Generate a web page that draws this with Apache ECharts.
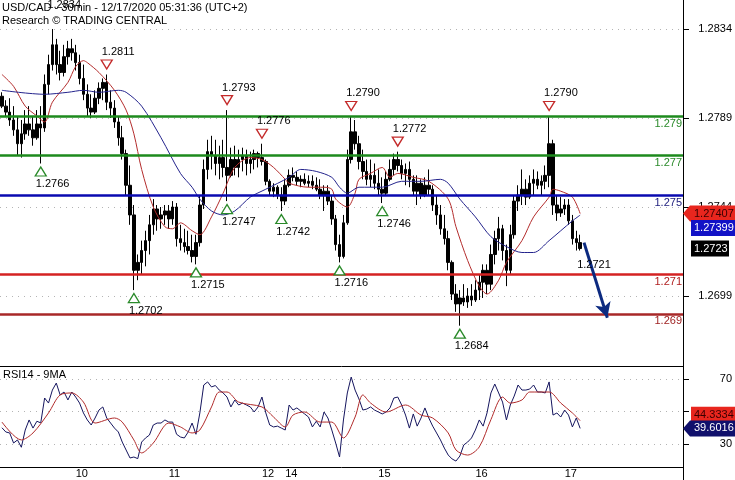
<!DOCTYPE html>
<html>
<head>
<meta charset="utf-8">
<script src="https://cdn.jsdelivr.net/npm/echarts@6/dist/echarts.min.js"></script>
<style>
  html, body { margin: 0; padding: 0; background: #fff; }
  #chart { width: 735px; height: 480px; }
</style>
</head>
<body>
<div id="chart"></div>
<script>
const FONT = '"Liberation Sans", Arial, sans-serif'

// hourly bars: [open, close, low, high]
const ohlc = [
  [1.2800, 1.2795, 1.2794, 1.2802], [1.2795, 1.2792, 1.2790, 1.2798], [1.2792, 1.2788, 1.2785, 1.2799],
  [1.2788, 1.2783, 1.2780, 1.2795], [1.2783, 1.2776, 1.2770, 1.2790], [1.2776, 1.2781, 1.2769, 1.2788],
  [1.2781, 1.2786, 1.2778, 1.2793], [1.2786, 1.2783, 1.2780, 1.2795], [1.2783, 1.2779, 1.2775, 1.2790],
  [1.2779, 1.2786, 1.2778, 1.2793], [1.2786, 1.2784, 1.2766, 1.2795], [1.2784, 1.2806, 1.2782, 1.2811],
  [1.2806, 1.2816, 1.2801, 1.2821], [1.2816, 1.2826, 1.2813, 1.2834], [1.2826, 1.2816, 1.2811, 1.2829],
  [1.2816, 1.2812, 1.2808, 1.2823], [1.2812, 1.2820, 1.2810, 1.2826], [1.2820, 1.2824, 1.2816, 1.2828],
  [1.2824, 1.2822, 1.2818, 1.2829], [1.2822, 1.2817, 1.2813, 1.2826], [1.2817, 1.2809, 1.2806, 1.2821],
  [1.2809, 1.2801, 1.2798, 1.2816], [1.2801, 1.2794, 1.2790, 1.2806], [1.2794, 1.2792, 1.2789, 1.2801],
  [1.2792, 1.2799, 1.2791, 1.2803], [1.2799, 1.2804, 1.2796, 1.2807], [1.2804, 1.2807, 1.2798, 1.2809],
  [1.2807, 1.2797, 1.2793, 1.2811], [1.2797, 1.2794, 1.2789, 1.2803], [1.2794, 1.2787, 1.2784, 1.2798],
  [1.2787, 1.2779, 1.2775, 1.2790], [1.2779, 1.2771, 1.2768, 1.2785], [1.2771, 1.2755, 1.2750, 1.2773],
  [1.2755, 1.2740, 1.2735, 1.2765], [1.2740, 1.2712, 1.2702, 1.2745], [1.2712, 1.2716, 1.2707, 1.2720],
  [1.2716, 1.2722, 1.2710, 1.2727], [1.2722, 1.2727, 1.2714, 1.2732], [1.2727, 1.2735, 1.2720, 1.2740],
  [1.2735, 1.2743, 1.2730, 1.2748], [1.2743, 1.2738, 1.2732, 1.2745], [1.2738, 1.2740, 1.2733, 1.2744],
  [1.2740, 1.2742, 1.2735, 1.2745], [1.2742, 1.2738, 1.2733, 1.2745], [1.2738, 1.2744, 1.2735, 1.2747],
  [1.2744, 1.2728, 1.2724, 1.2746], [1.2728, 1.2726, 1.2722, 1.2735], [1.2726, 1.2724, 1.2721, 1.2733],
  [1.2724, 1.2722, 1.2720, 1.2732], [1.2722, 1.2719, 1.2716, 1.2730], [1.2719, 1.2726, 1.2715, 1.2730],
  [1.2726, 1.2745, 1.2724, 1.2750], [1.2745, 1.2763, 1.2743, 1.2768], [1.2763, 1.2772, 1.2758, 1.2778],
  [1.2772, 1.2770, 1.2763, 1.2780], [1.2770, 1.2766, 1.2760, 1.2778], [1.2766, 1.2769, 1.2758, 1.2775],
  [1.2769, 1.2764, 1.2759, 1.2778], [1.2764, 1.2760, 1.2747, 1.2793], [1.2760, 1.2768, 1.2759, 1.2774],
  [1.2768, 1.2764, 1.2760, 1.2775], [1.2764, 1.2768, 1.2759, 1.2773], [1.2768, 1.2770, 1.2762, 1.2774],
  [1.2770, 1.2766, 1.2760, 1.2773], [1.2766, 1.2768, 1.2761, 1.2772], [1.2768, 1.2771, 1.2763, 1.2773],
  [1.2771, 1.2769, 1.2764, 1.2772], [1.2769, 1.2767, 1.2765, 1.2776], [1.2767, 1.2757, 1.2755, 1.2768],
  [1.2757, 1.2752, 1.2750, 1.2758], [1.2752, 1.2754, 1.2749, 1.2756], [1.2754, 1.2750, 1.2748, 1.2755],
  [1.2750, 1.2747, 1.2742, 1.2754], [1.2747, 1.2755, 1.2745, 1.2758], [1.2755, 1.2760, 1.2754, 1.2763],
  [1.2760, 1.2759, 1.2757, 1.2764], [1.2759, 1.2757, 1.2755, 1.2762], [1.2757, 1.2758, 1.2754, 1.2760],
  [1.2758, 1.2756, 1.2755, 1.2761], [1.2756, 1.2757, 1.2754, 1.2760], [1.2757, 1.2755, 1.2753, 1.2760],
  [1.2755, 1.2753, 1.2752, 1.2759], [1.2753, 1.2750, 1.2748, 1.2758], [1.2750, 1.2752, 1.2742, 1.2755],
  [1.2752, 1.2747, 1.2745, 1.2755], [1.2747, 1.2738, 1.2735, 1.2750], [1.2738, 1.2725, 1.2722, 1.2740],
  [1.2725, 1.2719, 1.2716, 1.2730], [1.2719, 1.2736, 1.2718, 1.2740], [1.2736, 1.2768, 1.2735, 1.2773],
  [1.2768, 1.2782, 1.2766, 1.2790], [1.2782, 1.2776, 1.2773, 1.2788], [1.2776, 1.2767, 1.2763, 1.2780],
  [1.2767, 1.2762, 1.2758, 1.2773], [1.2762, 1.2758, 1.2755, 1.2768], [1.2758, 1.2760, 1.2754, 1.2768],
  [1.2760, 1.2756, 1.2753, 1.2766], [1.2756, 1.2753, 1.2750, 1.2763], [1.2753, 1.2751, 1.2746, 1.2759],
  [1.2751, 1.2758, 1.2750, 1.2762], [1.2758, 1.2763, 1.2757, 1.2768], [1.2763, 1.2768, 1.2760, 1.2771],
  [1.2768, 1.2765, 1.2762, 1.2772], [1.2765, 1.2761, 1.2758, 1.2768], [1.2761, 1.2763, 1.2755, 1.2766],
  [1.2763, 1.2758, 1.2754, 1.2767], [1.2758, 1.2752, 1.2750, 1.2760], [1.2752, 1.2756, 1.2745, 1.2760],
  [1.2756, 1.2750, 1.2748, 1.2758], [1.2750, 1.2755, 1.2749, 1.2759], [1.2755, 1.2753, 1.2750, 1.2763],
  [1.2753, 1.2745, 1.2742, 1.2755], [1.2745, 1.2740, 1.2735, 1.2750], [1.2740, 1.2733, 1.2730, 1.2745],
  [1.2733, 1.2728, 1.2725, 1.2740], [1.2728, 1.2716, 1.2712, 1.2732], [1.2716, 1.2700, 1.2697, 1.2717],
  [1.2700, 1.2695, 1.2691, 1.2705], [1.2695, 1.2698, 1.2684, 1.2702], [1.2698, 1.2696, 1.2694, 1.2705],
  [1.2696, 1.2699, 1.2693, 1.2703], [1.2699, 1.2697, 1.2694, 1.2705], [1.2697, 1.2702, 1.2696, 1.2707],
  [1.2702, 1.2706, 1.2697, 1.2710], [1.2706, 1.2712, 1.2698, 1.2715], [1.2712, 1.2705, 1.2700, 1.2715],
  [1.2705, 1.2720, 1.2702, 1.2725], [1.2720, 1.2728, 1.2715, 1.2732], [1.2728, 1.2733, 1.2722, 1.2739],
  [1.2733, 1.2722, 1.2717, 1.2735], [1.2722, 1.2712, 1.2704, 1.2725], [1.2712, 1.2730, 1.2710, 1.2735],
  [1.2730, 1.2747, 1.2728, 1.2750], [1.2747, 1.2750, 1.2742, 1.2755], [1.2750, 1.2753, 1.2745, 1.2763],
  [1.2753, 1.2749, 1.2745, 1.2758], [1.2749, 1.2756, 1.2748, 1.2760], [1.2756, 1.2758, 1.2750, 1.2763],
  [1.2758, 1.2755, 1.2753, 1.2762], [1.2755, 1.2757, 1.2750, 1.2760], [1.2757, 1.2760, 1.2753, 1.2765],
  [1.2760, 1.2776, 1.2754, 1.2790], [1.2776, 1.2745, 1.2740, 1.2778], [1.2745, 1.2741, 1.2737, 1.2750],
  [1.2741, 1.2743, 1.2739, 1.2749], [1.2743, 1.2745, 1.2740, 1.2748], [1.2745, 1.2737, 1.2735, 1.2748],
  [1.2737, 1.2728, 1.2725, 1.2740], [1.2728, 1.2726, 1.2722, 1.2732], [1.2726, 1.2723, 1.2722, 1.2730]
]

// moving averages: [bar index, price]
const redMa = [
  [0, 1.2811], [3, 1.2805], [6, 1.2795], [9, 1.2790], [11, 1.2787], [13, 1.2797], [17, 1.2807], [19, 1.2815],
  [21, 1.2818], [22, 1.2817], [25, 1.2812], [29, 1.2803], [32, 1.2793], [34, 1.2781], [36, 1.2763], [39, 1.2744],
  [42, 1.2734], [44, 1.2733], [46, 1.2736], [49, 1.2732], [51, 1.2730], [54, 1.2739], [57, 1.2751], [60, 1.2764],
  [64, 1.2769], [67, 1.2768], [70, 1.2764], [73, 1.2758], [74, 1.2756], [79, 1.2754], [83, 1.2754], [85, 1.2753],
  [86, 1.2748], [89, 1.2744], [91, 1.2751], [92, 1.2758], [95, 1.2761], [98, 1.2764], [100, 1.2759], [102, 1.2761],
  [106, 1.2759], [110, 1.2757], [115, 1.2748], [117, 1.2734], [120, 1.2717], [123, 1.2704], [125, 1.2700],
  [128, 1.2707], [130, 1.2716], [134, 1.2727], [137, 1.2739], [141, 1.2749], [142, 1.2753], [144, 1.2752],
  [147, 1.2749], [149, 1.27407]
]
const blueMa = [
  [0, 1.2803], [11, 1.2801], [17, 1.2802], [21, 1.2803], [25, 1.2802], [30, 1.2803], [32, 1.2802], [36, 1.2795],
  [41, 1.2779], [46, 1.2761], [49, 1.2754], [51, 1.2748], [54, 1.2742], [57, 1.2740], [60, 1.2742], [64, 1.2749],
  [68, 1.2753], [74, 1.2759], [77, 1.2763], [81, 1.2762], [85, 1.2759], [87, 1.2754], [89, 1.2751], [92, 1.2754],
  [98, 1.2754], [103, 1.2757], [108, 1.2757], [113, 1.2758], [115, 1.2756], [118, 1.2748], [122, 1.2739],
  [126, 1.2729], [130, 1.2724], [134, 1.2721], [137, 1.2721], [141, 1.2727], [144, 1.2732], [147, 1.2737],
  [149, 1.27399]
]

// RSI(14) per bar and its 9-bar average
const rsi = [
  40, 37.4, 36.8, 30.6, 32.5, 28, 38.6, 44.8, 39.8, 44,
  43, 58.3, 55.2, 63.2, 67.5, 60.2, 62, 57.1, 62, 58.9,
  55.2, 49.1, 44.8, 41.7, 46, 50.9, 52.8, 46, 42.9, 39.8,
  37.4, 31.2, 26.3, 21.4, 22, 21, 31.2, 33.7, 35.5, 41.7,
  42.9, 42.9, 44.8, 43.5, 43.5, 36, 34.3, 33.7, 37.4, 42.9,
  36, 49.1, 66.3, 68.2, 65.1, 66, 63.2, 61.4, 58.9, 52.8,
  57.1, 54, 55.2, 54, 52.8, 49.7, 52.8, 58.9, 49.1, 41.7,
  40.5, 41, 39.8, 38.6, 54, 50.9, 52.2, 50.3, 48.5, 46.6,
  40.5, 44, 40.5, 49.7, 46, 38.6, 30.6, 22, 44.8, 61.4,
  71.2, 63.2, 57.7, 50.9, 51.5, 52.8, 50.9, 49.7, 48.5, 49.7,
  52.2, 58.3, 58.9, 54, 47.8, 39.8, 48.5, 41, 46, 52.2,
  46, 41, 36.8, 32.5, 27.5, 23.2, 20.8, 19.5, 22.6, 29.4,
  31.2, 33.7, 38.6, 44.8, 41, 49.1, 61.4, 66.9, 61.4, 55.8,
  44.8, 54, 59.5, 66.3, 63.2, 63.2, 63.8, 66.3, 62, 62,
  61.4, 68.2, 47.8, 49.1, 46.6, 50.9, 47.8, 40.5, 46, 39.6016
]
const rsiMa = [
  [0, 43.5], [5, 32.5], [8, 36.8], [12, 49.1], [15, 60.2], [18, 61.4], [21, 55.8], [24, 42.9], [29, 46],
  [31, 43.5], [34, 32.5], [36, 24.5], [39, 30.6], [43, 42.9], [46, 40.5], [49, 36.8], [51, 38.6], [54, 52.8],
  [56, 62], [58, 62], [61, 55.8], [67, 52.8], [70, 46.6], [73, 40.5], [75, 47.8], [78, 49.7], [82, 43.5],
  [85, 43.5], [88, 33.7], [91, 46.6], [93, 60.2], [95, 55.2], [99, 49.7], [104, 54], [108, 47.8], [111, 46],
  [115, 36.8], [117, 26.3], [120, 23.2], [123, 28.2], [126, 45], [129, 58.9], [131, 55.2], [134, 57.1],
  [136, 62], [141, 62], [144, 55.2], [147, 49.1], [149, 44.3334]
]

const slotCount = 176
const dayLabels = ['10', '11', '12', '14', '15', '16', '17']
const dayIndex = [19, 43, 67, 73, 97, 122, 145]
const priceTicks = [1.2699, 1.2744, 1.2789, 1.2834]
const rsiTicks = [30, 50, 70]

const levels = [1.279, 1.277, 1.275, 1.271, 1.269]
const levelColors = ['#1d8a1d', '#1d8a1d', '#0a0ab0', '#d42222', '#a82828']
const levelTextColors = ['#2b8a2b', '#2b8a2b', '#1c1c7c', '#b02020', '#a02424']

const highIdx = [27, 58, 67, 90, 102, 141]
const highVal = [1.2811, 1.2793, 1.2776, 1.2790, 1.2772, 1.2790]
const lowIdx = [10, 34, 50, 58, 72, 87, 98, 118]
const lowVal = [1.2766, 1.2702, 1.2715, 1.2747, 1.2742, 1.2716, 1.2746, 1.2684]
const topHigh = [13, 1.2834]
const target = [149, 1.2721]
const arrowFrom = [150, 1.2726]
const arrowTo = [156, 1.2688]

const lastRedMa = 1.27407
const lastBlueMa = 1.27399
const lastClose = 1.2723
const lastRsiMa = 44.3334
const lastRsi = 39.6016

const slots = Array.from({ length: slotCount }, (_, i) => String(i))
const isDay = (i) => dayIndex.includes(i)

const chart = echarts.init(document.getElementById('chart'), null, { renderer: 'canvas' })

const pivotLabel = { show: true, color: '#000', fontSize: 11, fontFamily: FONT, align: 'left', offset: [-5, 0], distance: 2 }

const markPoints = [
  ...highIdx.map((i, k) => ({
    coord: [i, highVal[k]],
    symbol: 'triangle',
    symbolRotate: 180,
    symbolSize: [11, 9],
    symbolOffset: [0, -10],
    itemStyle: { color: '#fff', borderColor: '#c42a2a', borderWidth: 1.3 },
    label: { ...pivotLabel, position: 'top', formatter: highVal[k].toFixed(4) }
  })),
  ...lowIdx.map((i, k) => ({
    coord: [i, lowVal[k]],
    symbol: 'triangle',
    symbolSize: [11, 9],
    symbolOffset: [0, 8],
    itemStyle: { color: '#fff', borderColor: '#2a8a2a', borderWidth: 1.3 },
    label: { ...pivotLabel, position: 'bottom', formatter: lowVal[k].toFixed(4) }
  })),
  {
    coord: topHigh,
    symbol: 'circle',
    symbolSize: 1,
    itemStyle: { color: 'rgba(0,0,0,0)' },
    label: { ...pivotLabel, position: 'top', distance: 18, formatter: topHigh[1].toFixed(4) }
  },
  {
    coord: target,
    symbol: 'circle',
    symbolSize: 1,
    itemStyle: { color: 'rgba(0,0,0,0)' },
    label: { ...pivotLabel, position: 'bottom', distance: 6, offset: [-3, 0], formatter: target[1].toFixed(4) }
  }
]

const markLines = [
  ...levels.map((v, k) => ({
    yAxis: v,
    lineStyle: { color: levelColors[k], width: 2.5, type: 'solid' },
    label: {
      show: true,
      position: 'insideEndBottom',
      distance: [1, 2],
      formatter: v.toFixed(3),
      color: levelTextColors[k],
      fontSize: 11,
      fontFamily: FONT
    }
  })),
  [
    { coord: arrowFrom, symbol: 'none' },
    { coord: arrowTo, symbol: 'arrow', symbolSize: [12, 15] }
  ]
]

chart.setOption({
  animation: false,
  textStyle: { fontFamily: FONT },
  title: [
    {
      text: 'USD/CAD - 30min - 12/17/2020 05:31:36 (UTC+2)\nResearch © TRADING CENTRAL',
      left: 2,
      top: 1,
      padding: 0,
      textStyle: { fontSize: 11, fontWeight: 'normal', color: '#000', lineHeight: 13, fontFamily: FONT }
    },
    {
      text: 'RSI14 - 9MA',
      left: 3,
      top: 369,
      padding: 0,
      textStyle: { fontSize: 11, fontWeight: 'normal', color: '#000', fontFamily: FONT }
    }
  ],
  grid: [
    { left: 0, right: 52, top: 0, height: 366 },
    { left: 0, right: 52, top: 366, height: 101 }
  ],
  xAxis: [
    { gridIndex: 0, type: 'category', data: slots, show: false },
    {
      gridIndex: 1,
      type: 'category',
      data: slots,
      axisLine: { lineStyle: { color: '#000', width: 1 } },
      axisTick: { interval: (i) => isDay(i), length: 10, lineStyle: { color: '#000' } },
      axisLabel: {
        interval: (i) => isDay(i),
        formatter: (v, i) => dayLabels[dayIndex.indexOf(i)],
        align: 'left',
        margin: 1,
        fontSize: 11,
        color: '#000',
        fontFamily: FONT
      },
      splitLine: { show: false }
    },
    {
      gridIndex: 1,
      type: 'category',
      data: slots,
      position: 'top',
      axisLine: { lineStyle: { color: '#000', width: 1 } },
      axisTick: { show: false },
      axisLabel: { show: false }
    }
  ],
  yAxis: [
    {
      gridIndex: 0,
      type: 'value',
      position: 'right',
      min: 1.266362,
      max: 1.284866,
      axisLine: { show: true, lineStyle: { color: '#000' } },
      axisTick: { show: true, customValues: priceTicks, length: 6, lineStyle: { color: '#000' } },
      axisLabel: {
        customValues: priceTicks,
        formatter: (v) => v.toFixed(4),
        align: 'right',
        margin: 49,
        fontSize: 11,
        color: '#000',
        fontFamily: FONT
      },
      splitLine: { show: true, lineStyle: { color: '#b4b4b4', type: [1, 5] } }
    },
    {
      gridIndex: 1,
      type: 'value',
      position: 'right',
      min: 15.85,
      max: 78,
      axisLine: { show: true, lineStyle: { color: '#000' } },
      axisTick: { show: true, customValues: rsiTicks, length: 6, lineStyle: { color: '#000' } },
      axisLabel: {
        customValues: rsiTicks,
        align: 'right',
        margin: 49,
        fontSize: 11,
        color: '#000',
        fontFamily: FONT
      },
      splitLine: { show: true, lineStyle: { color: '#b4b4b4', type: [1, 5] } }
    }
  ],
  series: [
    {
      type: 'candlestick',
      xAxisIndex: 0,
      yAxisIndex: 0,
      data: ohlc,
      barWidth: 3,
      itemStyle: { color: '#000', color0: '#000', borderColor: '#000', borderColor0: '#000', borderWidth: 1 },
      markLine: {
        silent: true,
        precision: 5,
        symbol: 'none',
        lineStyle: { color: '#0c2a80', width: 3, type: 'solid' },
        label: { show: false },
        data: markLines
      },
      markPoint: { silent: true, data: markPoints }
    },
    {
      type: 'line',
      xAxisIndex: 0,
      yAxisIndex: 0,
      data: redMa,
      smooth: 0.3,
      showSymbol: false,
      lineStyle: { color: '#b32c2c', width: 1 }
    },
    {
      type: 'line',
      xAxisIndex: 0,
      yAxisIndex: 0,
      data: blueMa,
      smooth: 0.3,
      showSymbol: false,
      lineStyle: { color: '#23238c', width: 1 }
    },
    {
      type: 'line',
      xAxisIndex: 1,
      yAxisIndex: 1,
      data: rsi,
      showSymbol: false,
      lineStyle: { color: '#15155e', width: 1 }
    },
    {
      type: 'line',
      xAxisIndex: 1,
      yAxisIndex: 1,
      data: rsiMa,
      smooth: 0.3,
      showSymbol: false,
      lineStyle: { color: '#b02a2a', width: 1 }
    }
  ]
})

// value tags on the right axis, placed through the axis scales
const tag = (yAxisIndex, value, text, bg, fg, dy, arrow, right) => {
  const y = chart.convertToPixel({ yAxisIndex }, value) + dy
  const h = 16
  const shape = arrow
    ? { type: 'polygon', shape: { points: [[683, y], [690, y - h / 2], [735, y - h / 2], [735, y + h / 2], [690, y + h / 2]] } }
    : { type: 'rect', shape: { x: 691, y: y - h / 2, width: right - 691, height: h } }
  return [
    { ...shape, z: 100, style: { fill: bg } },
    { type: 'text', z: 101, x: 694, y, style: { text, fill: fg, font: '11px ' + FONT, verticalAlign: 'middle' } }
  ]
}

chart.setOption({
  graphic: [
    { type: 'line', z: 50, shape: { x1: 683.5, y1: 467, x2: 683.5, y2: 480 }, style: { stroke: '#000', lineWidth: 1 } },
    ...tag(0, lastRedMa, String(lastRedMa), '#e8261e', '#3a0000', 0, true),
    ...tag(0, lastBlueMa, String(lastBlueMa), '#1212c6', '#fff', 13, false, 735),
    ...tag(0, lastClose, lastClose.toFixed(4), '#000', '#fff', 0, false, 729),
    ...tag(1, lastRsiMa, String(lastRsiMa), '#e8261e', '#3a0000', -6, false, 735),
    ...tag(1, lastRsi, String(lastRsi), '#10106c', '#fff', 0, true)
  ]
})
</script>
</body>
</html>
